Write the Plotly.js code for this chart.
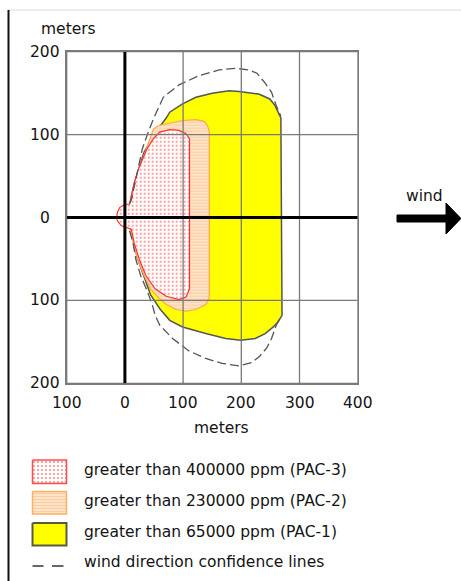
<!DOCTYPE html>
<html>
<head>
<meta charset="utf-8">
<script src="https://cdn.plot.ly/plotly-3.0.1.min.js"></script>
<style>html,body{margin:0;padding:0;background:#fff;}#chart{width:461px;height:581px;}</style>
</head>
<body>
<div id="chart"></div>
<script>
// ---- data (meters) ----
const xTicks = [-100, 0, 100, 200, 300, 400];
const xTickText = ['100', '0', '100', '200', '300', '400'];
const yTicks = [-200, -100, 0, 100, 200];
const yTickText = ['200', '100', '0', '100', '200'];

// PAC-1 (> 65000 ppm)
const pac1X = [5, 8, 11, 16, 22, 25, 33, 47, 58, 71, 77, 99, 122, 150, 179, 196, 230, 249, 258, 268, 269, 270, 263, 255, 241, 224, 199, 173, 139, 99, 77, 60, 44, 30, 21, 14, 9, 5];
const pac1Y = [0, 16, 25, 41, 54, 62, 79, 95, 108, 120, 127, 137, 145, 150, 153, 152, 149, 143, 135, 120, -86, -118, -126, -132, -140, -146, -148, -146, -140, -132, -124, -110, -93, -66, -48, -25, -10, 0];

// PAC-2 (> 230000 ppm)
const pac2X = [6, 9, 12, 17, 24, 33, 44, 49, 58, 71, 99, 122, 136, 142, 145, 145, 139, 122, 105, 88, 71, 58, 44, 33, 22, 14, 9, 6];
const pac2Y = [0, 16, 25, 41, 58, 75, 99, 107, 111, 113, 117, 118, 116, 111, 103, -97, -105, -111, -113, -111, -105, -97, -86, -70, -50, -30, -14, 0];

// PAC-3 (> 400000 ppm)
const pac3X = [-14, -13, -9, 0, 8, 11, 16, 23, 30, 38, 49, 60, 77, 93, 105, 111, 111, 105, 93, 71, 52, 36, 25, 16, 11, 3, -6, -13, -14];
const pac3Y = [0, 6, 12, 16, 16, 25, 41, 58, 70, 83, 95, 103, 106, 105, 101, 95, -86, -96, -99, -95, -86, -70, -51, -31, -14, -12, -10, -4, 0];

// wind direction confidence lines
const confTopX = [8, 11, 16, 22, 30, 38, 49, 66, 93, 127, 162, 190, 213, 227, 241, 252, 260, 268];
const confTopY = [17, 21, 37, 58, 83, 99, 119, 145, 160, 171, 178, 180, 178, 174, 162, 151, 135, 122];
const confBotX = [8, 14, 19, 27, 38, 47, 52, 60, 82, 110, 139, 167, 196, 218, 232, 244, 252, 260, 266];
const confBotY = [-16, -31, -51, -70, -88, -105, -118, -130, -146, -161, -170, -176, -179, -175, -167, -157, -146, -130, -122];

const legendLabels = [
  'greater than 400000 ppm (PAC-3)',
  'greater than 230000 ppm (PAC-2)',
  'greater than 65000 ppm (PAC-1)',
  'wind direction confidence lines'
];

// ---- styles ----
const FONT = 'DejaVu Sans, Verdana, sans-serif';
const FS = 15.5;
const TXT = '#141414';
const W = 461, H = 581;
const plotPx = {l: 66.7, r: 357.7, t: 51.7, b: 383.3};

const redPattern = {shape: '.', fgcolor: '#ff8c8c', bgcolor: '#ffffff', size: 4, solidity: 0.22};
const orangePattern = {shape: '-', fgcolor: '#fbcd9f', bgcolor: '#fee6cc', size: 3, solidity: 0.4};

const traces = [
  {x: pac1X, y: pac1Y, type: 'scatter', mode: 'lines', fill: 'toself', fillcolor: '#ffff00',
   line: {color: '#555555', width: 1.5}, hoverinfo: 'skip', showlegend: false},
  {x: pac2X, y: pac2Y, type: 'scatter', mode: 'lines', fill: 'toself', fillcolor: '#fee6cc',
   fillpattern: orangePattern, line: {color: '#ffa64d', width: 1.2}, hoverinfo: 'skip', showlegend: false},
  {x: pac3X, y: pac3Y, type: 'scatter', mode: 'lines', fill: 'toself', fillcolor: '#ffffff',
   fillpattern: redPattern, line: {color: '#ff3333', width: 1.2}, hoverinfo: 'skip', showlegend: false},
  {x: confTopX, y: confTopY, type: 'scatter', mode: 'lines',
   line: {color: '#555555', width: 1.3, dash: '9px,4px'}, hoverinfo: 'skip', showlegend: false},
  {x: confBotX, y: confBotY, type: 'scatter', mode: 'lines',
   line: {color: '#555555', width: 1.3, dash: '9px,4px'}, hoverinfo: 'skip', showlegend: false}
];

// legend swatches drawn in page-pixel axes (x2/y2)
const sw = {x0: 32.5, x1: 66.5};
const swRows = [[460, 483.5], [491.5, 514], [523, 545.5]];
const swStyles = [
  {fillcolor: '#ffffff', fillpattern: redPattern, line: {color: '#ff4d4d', width: 1.5}},
  {fillcolor: '#fee6cc', fillpattern: orangePattern, line: {color: '#ffb066', width: 1.5}},
  {fillcolor: '#ffff00', line: {color: '#5a5a40', width: 2}}
];
swRows.forEach((r, i) => {
  traces.push(Object.assign({
    x: [sw.x0, sw.x1, sw.x1, sw.x0, sw.x0], y: [r[0], r[0], r[1], r[1], r[0]],
    xaxis: 'x2', yaxis: 'y2', type: 'scatter', mode: 'lines', fill: 'toself',
    hoverinfo: 'skip', showlegend: false
  }, swStyles[i]));
});
traces.push({x: [32.5, 43.5], y: [566, 566], xaxis: 'x2', yaxis: 'y2', type: 'scatter', mode: 'lines',
  line: {color: '#666666', width: 2}, hoverinfo: 'skip', showlegend: false});
traces.push({x: [52, 63.5], y: [566, 566], xaxis: 'x2', yaxis: 'y2', type: 'scatter', mode: 'lines',
  line: {color: '#666666', width: 2}, hoverinfo: 'skip', showlegend: false});

const shapes = [];
// grid lines above fills
xTicks.forEach(v => {
  if (v === 0) return;
  shapes.push({type: 'line', xref: 'x', yref: 'y', x0: v, x1: v, y0: yTicks[0], y1: yTicks[yTicks.length - 1],
    line: {color: '#7a7a7a', width: 1.3}, layer: 'above'});
});
yTicks.forEach(v => {
  if (v === 0) return;
  shapes.push({type: 'line', xref: 'x', yref: 'y', y0: v, y1: v, x0: xTicks[0], x1: xTicks[xTicks.length - 1],
    line: {color: '#7a7a7a', width: 1.3}, layer: 'above'});
});
// zero axes
shapes.push({type: 'line', xref: 'x', yref: 'y', x0: 0, x1: 0, y0: -200, y1: 200, line: {color: '#000', width: 3}, layer: 'above'});
shapes.push({type: 'line', xref: 'x', yref: 'y', y0: 0, y1: 0, x0: -100, x1: 400, line: {color: '#000', width: 3}, layer: 'above'});
// page frame lines
shapes.push({type: 'line', xref: 'x2', yref: 'y2', x0: 8, x1: 461, y0: 10, y1: 10, line: {color: '#dcdcdc', width: 1}});
shapes.push({type: 'line', xref: 'x2', yref: 'y2', x0: 8.5, x1: 8.5, y0: 10, y1: 581, line: {color: '#111', width: 2}});
// wind arrow
shapes.push({type: 'path', xref: 'x2', yref: 'y2', path: 'M397,215 L449,215 L449,222 L397,222 Z',
  fillcolor: '#000', line: {color: '#000', width: 1}});
shapes.push({type: 'path', xref: 'x2', yref: 'y2', path: 'M446,203 L461,218.5 L446,234 Z',
  fillcolor: '#000', line: {color: '#000', width: 1}});

const annotations = [];
const tf = {family: FONT, size: FS, color: TXT};
xTicks.forEach((v, i) => annotations.push({xref: 'x', yref: 'y2', x: v, y: 402.5, text: xTickText[i],
  showarrow: false, xanchor: 'center', yanchor: 'middle', font: tf}));
yTicks.forEach((v, i) => annotations.push({xref: 'x2', yref: 'y', x: 44.5, y: v, text: yTickText[i],
  showarrow: false, xanchor: 'center', yanchor: 'middle', font: tf}));
annotations.push({xref: 'x2', yref: 'y2', x: 68.5, y: 28.5, text: 'meters', showarrow: false, xanchor: 'center', yanchor: 'middle', font: tf});
annotations.push({xref: 'x2', yref: 'y2', x: 221, y: 428, text: 'meters', showarrow: false, xanchor: 'center', yanchor: 'middle', font: tf});
annotations.push({xref: 'x2', yref: 'y2', x: 424, y: 196, text: 'wind', showarrow: false, xanchor: 'center', yanchor: 'middle', font: tf});
const legY = [469.5, 501, 532, 562];
legendLabels.forEach((t, i) => annotations.push({xref: 'x2', yref: 'y2', x: 82, y: legY[i], text: t,
  showarrow: false, xanchor: 'left', yanchor: 'middle', font: tf}));

const layout = {
  width: W, height: H,
  margin: {l: 0, r: 0, t: 0, b: 0, pad: 0},
  paper_bgcolor: '#ffffff', plot_bgcolor: 'rgba(0,0,0,0)',
  showlegend: false,
  xaxis: {range: [xTicks[0], xTicks[xTicks.length - 1]], domain: [plotPx.l / W, plotPx.r / W],
    showgrid: false, zeroline: false, showticklabels: false, ticks: '',
    showline: true, mirror: true, linecolor: '#7a7a7a', linewidth: 1.5, fixedrange: true, anchor: 'y'},
  yaxis: {range: [yTicks[0], yTicks[yTicks.length - 1]], domain: [(H - plotPx.b) / H, (H - plotPx.t) / H],
    showgrid: false, zeroline: false, showticklabels: false, ticks: '',
    showline: true, mirror: true, linecolor: '#7a7a7a', linewidth: 1.5, fixedrange: true, anchor: 'x'},
  xaxis2: {range: [0, W], domain: [0, 1], visible: false, fixedrange: true, anchor: 'y2'},
  yaxis2: {range: [H, 0], domain: [0, 1], visible: false, fixedrange: true, anchor: 'x2'},
  shapes: shapes,
  annotations: annotations,
  font: {family: FONT, size: FS, color: TXT}
};

Plotly.newPlot('chart', traces, layout, {displayModeBar: false, staticPlot: true});
</script>
</body>
</html>
